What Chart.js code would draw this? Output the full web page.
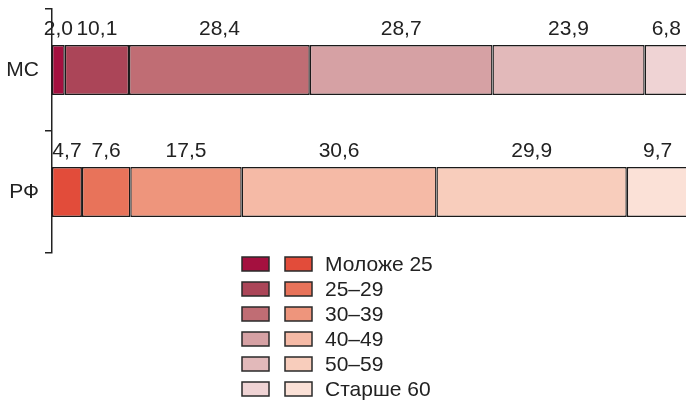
<!DOCTYPE html>
<html>
<head>
<meta charset="utf-8">
<script src="https://cdn.jsdelivr.net/npm/chart.js@4"></script>
<style>
body{margin:0;background:#fff;}
#wrap{width:686px;height:403px;}
</style>
</head>
<body>
<div id="wrap"><canvas id="ageChart"></canvas></div>
<script>
let categories = ["МС", "РФ"];

let ageGroups = ["Моложе 25", "25–29", "30–39", "40–49", "50–59", "Старше 60"];

let mcValues = [2.0, 10.1, 28.4, 28.7, 23.9, 6.8];
let rfValues = [4.7, 7.6, 17.5, 30.6, 29.9, 9.7];

let mcColors = ["#a4103f", "#ab4558", "#c06d74", "#d6a1a4", "#e2b9ba", "#efd3d4"];
let rfColors = ["#e24c3a", "#e8735a", "#ee957c", "#f5baa6", "#f8cdbc", "#fbe1d7"];

const FONT = "'Liberation Sans', Arial, Helvetica, sans-serif";
const INK = "#222";

// value labels over every segment
const valueLabels = {
    id: "valueLabels",
    afterDatasetsDraw(chart){
        let ctx = chart.ctx;
        ctx.save();
        ctx.font = "21px " + FONT;
        ctx.fillStyle = INK;
        ctx.textAlign = "center";
        ctx.textBaseline = "middle";
        chart.data.datasets.forEach((ds, i) => {
            chart.getDatasetMeta(i).data.forEach((bar, j) => {
                let p = bar.getProps(["x", "y", "base", "height"], true);
                let x = (p.x + p.base) / 2;
                let y = p.y - p.height / 2 - 16;
                ctx.fillText(ds.data[j].toFixed(1).replace(".", ","), x, y);
            });
        });
        ctx.restore();
    }
};

// two swatches per row: МС colour, РФ colour, then the age group
const pairLegend = {
    id: "pairLegend",
    afterDraw(chart){
        let ctx = chart.ctx;
        ctx.save();
        ctx.font = "21px " + FONT;
        ctx.textBaseline = "middle";
        ctx.lineWidth = 1.5;
        ctx.strokeStyle = "#2a2a2a";
        ageGroups.forEach((g, i) => {
            let cy = 264 + i * 25;
            ctx.fillStyle = mcColors[i];
            ctx.fillRect(242, cy - 7, 27, 14);
            ctx.strokeRect(242, cy - 7, 27, 14);
            ctx.fillStyle = rfColors[i];
            ctx.fillRect(285, cy - 7, 27, 14);
            ctx.strokeRect(285, cy - 7, 27, 14);
            ctx.fillStyle = INK;
            ctx.fillText(g, 325, cy + 1);
        });
        ctx.restore();
    }
};

let datasets = ageGroups.map((g, i) => ({
    label: g,
    data: [mcValues[i], rfValues[i]],
    backgroundColor: [mcColors[i], rfColors[i]],
    borderColor: "#1a1a1a",
    borderWidth: {top: 1.5, bottom: 1.5, left: 1.4, right: 1.4},
    borderSkipped: false,
    barPercentage: 0.41,
    categoryPercentage: 1
}));

new Chart(document.getElementById("ageChart"), {
    type: "bar",
    data: {
        labels: categories,
        datasets: datasets
    },
    options: {
        indexAxis: "y",
        responsive: true,
        maintainAspectRatio: false,
        animation: false,
        layout: {
            padding: {top: 9, bottom: 150, left: 0, right: 0}
        },
        plugins: {
            legend: {display: false},
            tooltip: {enabled: false}
        },
        scales: {
            x: {
                stacked: true,
                min: 0,
                max: 99.6,
                display: false
            },
            y: {
                stacked: true,
                offset: true,
                grid: {
                    offset: true,
                    drawOnChartArea: false,
                    tickLength: 7,
                    color: INK,
                    lineWidth: 1.5
                },
                border: {color: INK, width: 1.5},
                ticks: {
                    color: INK,
                    padding: 6,
                    font: {size: 21, family: FONT}
                },
                afterFit: function(scale){
                    scale.width = 52;
                    scale.paddingTop = 0;
                    scale.paddingBottom = 0;
                }
            }
        }
    },
    plugins: [valueLabels, pairLegend]
});
</script>
</body>
</html>
